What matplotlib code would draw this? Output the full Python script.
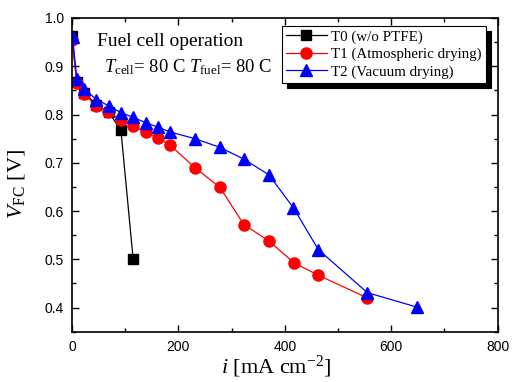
import matplotlib
matplotlib.use("Agg")
import matplotlib.pyplot as plt
from matplotlib.ticker import MultipleLocator

serif = ["Liberation Serif", "DejaVu Serif"]
sans = ["Liberation Sans", "DejaVu Sans"]
plt.rcParams['mathtext.fontset'] = 'custom'
plt.rcParams['mathtext.rm'] = 'Liberation Serif'
plt.rcParams['mathtext.it'] = 'Liberation Serif:italic'

t0_i = [0, 9, 23, 46, 69, 92, 115]
t0_v = [0.963, 0.868, 0.845, 0.820, 0.805, 0.767, 0.500]

t1_i = [0, 9, 23, 45, 68, 92, 115, 139, 161, 184, 231, 278, 323, 370, 417, 463, 555]
t1_v = [0.955, 0.866, 0.843, 0.818, 0.805, 0.789, 0.776, 0.763, 0.751, 0.737,
        0.690, 0.649, 0.572, 0.538, 0.493, 0.467, 0.420]

t2_i = [1, 9, 23, 46, 69, 92, 115, 139, 161, 184, 231, 278, 324, 370, 416, 463, 555, 648]
t2_v = [0.961, 0.874, 0.853, 0.831, 0.818, 0.804, 0.794, 0.783, 0.774, 0.764,
        0.750, 0.732, 0.707, 0.675, 0.607, 0.520, 0.431, 0.401]

labels = ["T0 (w/o PTFE)", "T1 (Atmospheric drying)", "T2 (Vacuum drying)"]

fig = plt.figure(figsize=(5.12, 3.82), dpi=100)
ax = fig.add_axes([0.1406, 0.1317, 0.8314, 0.8212])

ax.plot(t0_i, t0_v, color='black', lw=0.9, marker='s', ms=7, mfc='black', mec='black', label=labels[0])
ax.plot(t1_i, t1_v, color='red', lw=0.9, marker='o', ms=8, mfc='red', mec='red', label=labels[1])
ax.plot(t2_i, t2_v, color='blue', lw=0.9, marker='^', ms=9, mfc='blue', mec='blue', label=labels[2])

ax.set_xlim(0, 800)
ax.set_ylim(0.35, 1.0)
ax.xaxis.set_major_locator(MultipleLocator(200))
ax.xaxis.set_minor_locator(MultipleLocator(100))
ax.yaxis.set_major_locator(MultipleLocator(0.1))
ax.yaxis.set_minor_locator(MultipleLocator(0.05))
ax.tick_params(which='both', direction='in', top=True, right=True, width=1.0)
ax.tick_params(which='major', length=5, labelsize=10, pad=6)
ax.tick_params(which='minor', length=3)
for lab in ax.get_xticklabels() + ax.get_yticklabels():
    lab.set_family(sans)
ax.yaxis.set_major_formatter(matplotlib.ticker.FormatStrFormatter('%.1f'))
ax.xaxis.set_major_formatter(matplotlib.ticker.FormatStrFormatter('%d'))
for s in ax.spines.values():
    s.set_linewidth(1.2)

ax.set_xlabel(r'$\mathit{i}$ [mA cm$^{\mathrm{-2}}$]', fontsize=16, family=serif)
ax.xaxis.set_label_coords(0.48, -0.07)
ax.set_ylabel(r'$\mathit{V}_{\mathrm{FC}}$ [V]', fontsize=16, family=serif)
ax.yaxis.set_label_coords(-0.105, 0.47)

ax.text(0.058, 0.911, 'Fuel cell operation', transform=ax.transAxes, fontsize=14, family=serif)
ax.text(0.076, 0.828, r'$\mathit{T}_{\mathrm{cell}}$= 80 C $\mathit{T}_{\mathrm{fuel}}$= 80 C',
        transform=ax.transAxes, fontsize=13.4, family=serif)

leg = ax.legend(loc='upper right', bbox_to_anchor=(0.98, 0.985), prop={'family': serif, 'size': 10.8},
                fancybox=False, shadow={'color': 'black', 'alpha': 1, 'ox': 3.5, 'oy': -3.5}, framealpha=1,
                edgecolor='black', handlelength=2.7, borderpad=0.3, labelspacing=0.25,
                handletextpad=0.3, borderaxespad=0.2)
leg.get_frame().set_linewidth(0.8)

fig.savefig('out.png', dpi=100)
